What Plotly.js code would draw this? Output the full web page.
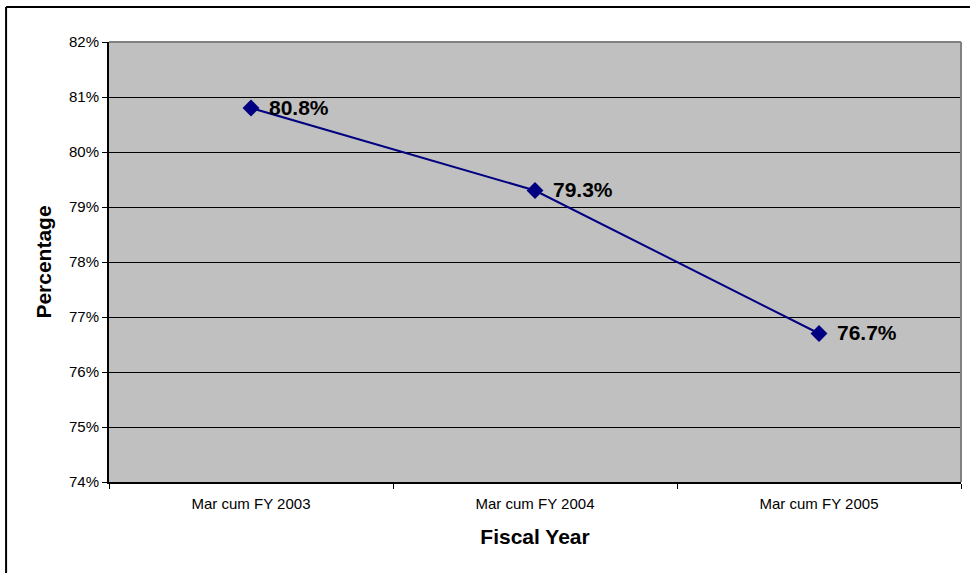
<!DOCTYPE html>
<html>
<head>
<meta charset="utf-8">
<script src="https://cdn.plot.ly/plotly-3.0.1.min.js"></script>
<style>html,body{margin:0;padding:0;background:#fff;}#chart{width:970px;height:573px;}</style>
</head>
<body>
<div id="chart"></div>
<script>
const categories = ["Mar cum FY 2003", "Mar cum FY 2004", "Mar cum FY 2005"];
const values = [80.8, 79.3, 76.7];
const labels = ["80.8%", "79.3%", "76.7%"];
const yTicks = [74, 75, 76, 77, 78, 79, 80, 81, 82];
const yTickLabels = ["74%", "75%", "76%", "77%", "78%", "79%", "80%", "81%", "82%"];

const font = "Liberation Sans, Arial, sans-serif";

const trace = {
  x: categories,
  y: values,
  type: "scatter",
  mode: "lines+markers",
  line: {color: "#000080", width: 2},
  marker: {symbol: "diamond", size: 13, color: "#000080"},
  cliponaxis: false,
  hoverinfo: "skip"
};

const annotations = categories.map((c, i) => ({
  x: c, y: values[i], xref: "x", yref: "y",
  text: labels[i], showarrow: false,
  xanchor: "left", yanchor: "middle", xshift: 16, yshift: 1,
  font: {family: font, size: 21, color: "#000", weight: "bold"}
}));

const layout = {
  width: 970, height: 573,
  margin: {l: 109, r: 8.5, t: 42, b: 91},
  paper_bgcolor: "#ffffff",
  plot_bgcolor: "#c0c0c0",
  showlegend: false,
  font: {family: font, size: 15, color: "#000"},
  xaxis: {
    type: "category",
    range: [-0.5, 2.5],
    tickson: "boundaries",
    ticks: "outside", ticklen: 5, tickcolor: "#000", tickwidth: 1,
    ticklabelstandoff: 7,
    showline: true, linecolor: "#000", linewidth: 2,
    showgrid: false, zeroline: false,
    tickfont: {family: font, size: 15, color: "#000"},
    title: {text: "Fiscal Year", font: {family: font, size: 21, color: "#000", weight: "bold"}, standoff: 18}
  },
  yaxis: {
    range: [74, 82],
    tickvals: yTicks, ticktext: yTickLabels,
    ticks: "outside", ticklen: 5, tickcolor: "#000", tickwidth: 1,
    showline: true, linecolor: "#000", linewidth: 2,
    showgrid: true, gridcolor: "#000", gridwidth: 1,
    zeroline: false,
    tickfont: {family: font, size: 15, color: "#000"},
    title: {text: "Percentage", font: {family: font, size: 21, color: "#000", weight: "bold"}, standoff: 12}
  },
  annotations: annotations,
  shapes: [
    {type: "line", xref: "paper", yref: "paper", x0: 0, x1: 1, y0: 1, y1: 1, line: {color: "#808080", width: 2}},
    {type: "line", xref: "paper", yref: "paper", x0: 1, x1: 1, y0: 0, y1: 1, line: {color: "#808080", width: 2}},
    {type: "line", xref: "paper", yref: "paper", x0: -0.1208, x1: 1.05, y0: 1.0795, y1: 1.0795, line: {color: "#000", width: 2}},
    {type: "line", xref: "paper", yref: "paper", x0: -0.1208, x1: -0.1208, y0: -0.3, y1: 1.0795, line: {color: "#000", width: 2}}
  ]
};

Plotly.newPlot("chart", [trace], layout, {displayModeBar: false, staticPlot: true});
</script>
</body>
</html>
